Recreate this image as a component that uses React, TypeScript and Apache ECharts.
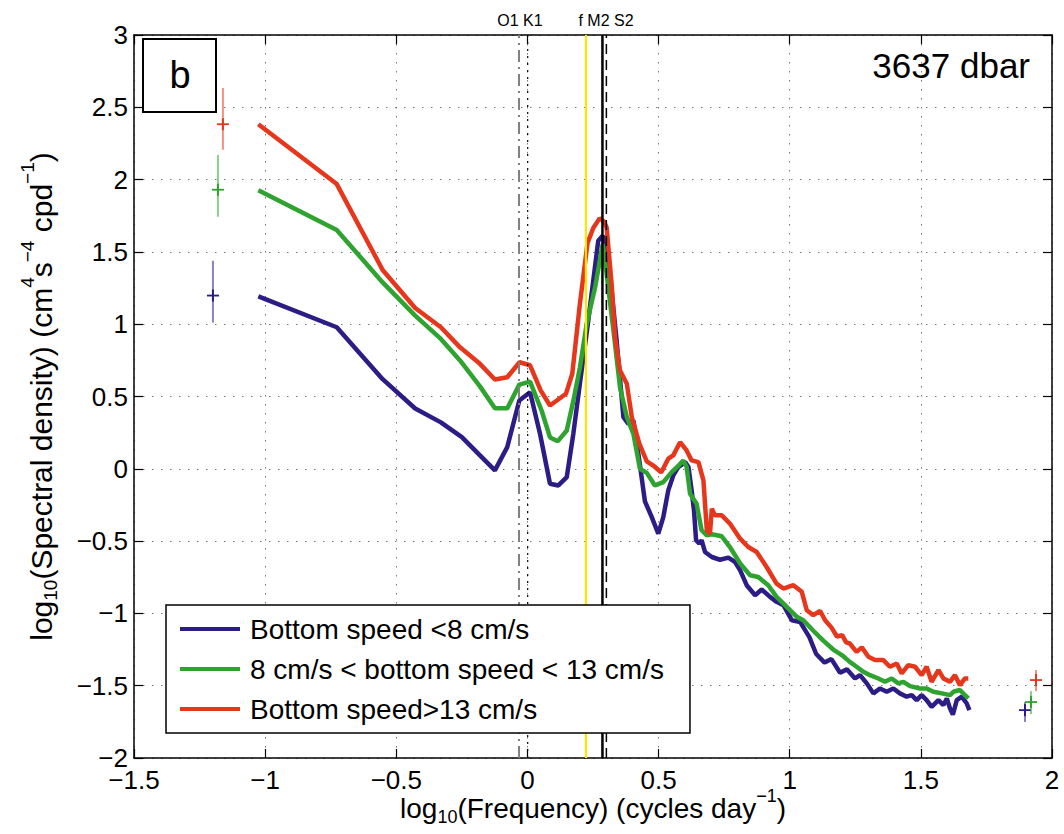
import React, { useEffect, useRef } from 'react';
import * as echarts from 'echarts';

const FONT = '"Liberation Sans", Arial, Helvetica, sans-serif';

// log10(frequency [cpd]), log10(spectral density)
const blueSpectrum: number[][] = [
  [-1.026, 1.193], [-0.727, 0.979], [-0.552, 0.62], [-0.428, 0.417], [-0.33, 0.321], [-0.25, 0.219],
  [-0.181, 0.093], [-0.124, -0.011], [-0.077, 0.15], [-0.031, 0.472], [0.01, 0.53], [0.048, 0.242],
  [0.086, -0.103], [0.118, -0.115], [0.15, -0.057], [0.175, 0.242], [0.2, 0.588], [0.232, 1.025],
  [0.27, 1.577], [0.287, 1.612], [0.302, 1.531], [0.321, 1.232], [0.34, 0.887], [0.366, 0.357],
  [0.385, 0.311], [0.404, 0.334], [0.423, 0.104], [0.448, -0.225], [0.474, -0.334], [0.499, -0.449],
  [0.518, -0.334], [0.537, -0.149], [0.556, -0.046], [0.575, 0.012], [0.601, 0.046], [0.614, 0.012],
  [0.626, -0.149], [0.635, -0.287], [0.643, -0.494], [0.655, -0.517], [0.664, -0.494], [0.677, -0.575],
  [0.703, -0.61], [0.734, -0.629], [0.766, -0.614], [0.791, -0.644], [0.811, -0.702], [0.836, -0.805],
  [0.868, -0.874], [0.893, -0.835], [0.925, -0.886], [0.95, -0.92], [0.976, -0.943], [1.008, -1.047],
  [1.04, -1.06], [1.075, -1.164], [1.101, -1.281], [1.133, -1.34], [1.159, -1.316], [1.192, -1.41],
  [1.218, -1.387], [1.249, -1.45], [1.268, -1.427], [1.294, -1.484], [1.319, -1.553], [1.344, -1.519],
  [1.37, -1.542], [1.395, -1.519], [1.42, -1.553], [1.446, -1.576], [1.465, -1.565], [1.484, -1.6],
  [1.503, -1.565], [1.522, -1.6], [1.541, -1.646], [1.567, -1.6], [1.586, -1.634], [1.599, -1.588],
  [1.611, -1.657], [1.622, -1.7], [1.637, -1.6], [1.656, -1.576], [1.675, -1.623], [1.685, -1.669],
];

const greenSpectrum: number[][] = [
  [-1.026, 1.927], [-0.727, 1.651], [-0.552, 1.289], [-0.428, 1.059], [-0.33, 0.898], [-0.257, 0.749],
  [-0.181, 0.57], [-0.124, 0.418], [-0.077, 0.418], [-0.031, 0.582], [0.01, 0.603], [0.054, 0.403],
  [0.086, 0.217], [0.116, 0.191], [0.15, 0.265], [0.175, 0.47], [0.2, 0.7], [0.226, 1.002],
  [0.258, 1.255], [0.287, 1.554], [0.302, 1.347], [0.328, 0.956], [0.353, 0.564], [0.379, 0.357],
  [0.404, 0.242], [0.429, 0.0], [0.455, -0.028], [0.486, -0.115], [0.518, -0.092], [0.55, -0.023],
  [0.575, 0.02], [0.594, 0.058], [0.607, 0.012], [0.62, -0.172], [0.645, -0.241], [0.664, -0.425],
  [0.684, -0.46], [0.703, -0.453], [0.741, -0.467], [0.772, -0.541], [0.811, -0.655], [0.849, -0.736],
  [0.88, -0.748], [0.918, -0.805], [0.95, -0.886], [0.982, -0.943], [1.027, -1.024], [1.052, -1.047],
  [1.09, -1.12], [1.127, -1.187], [1.166, -1.25], [1.2, -1.29], [1.229, -1.335], [1.255, -1.369],
  [1.281, -1.404], [1.306, -1.427], [1.338, -1.45], [1.363, -1.473], [1.389, -1.45], [1.414, -1.484],
  [1.433, -1.473], [1.459, -1.503], [1.497, -1.519], [1.522, -1.519], [1.548, -1.542], [1.58, -1.553],
  [1.611, -1.565], [1.624, -1.542], [1.649, -1.53], [1.668, -1.565], [1.681, -1.588],
];

const redSpectrum: number[][] = [
  [-1.026, 2.383], [-0.727, 1.969], [-0.552, 1.375], [-0.428, 1.112], [-0.33, 0.979], [-0.257, 0.84],
  [-0.181, 0.726], [-0.124, 0.618], [-0.077, 0.633], [-0.03, 0.737], [0.01, 0.716], [0.051, 0.541],
  [0.086, 0.438], [0.112, 0.472], [0.147, 0.519], [0.171, 0.657], [0.2, 1.14], [0.229, 1.56],
  [0.251, 1.665], [0.275, 1.732], [0.291, 1.712], [0.302, 1.669], [0.321, 1.278], [0.334, 0.91],
  [0.353, 0.68], [0.379, 0.588], [0.398, 0.357], [0.427, 0.173], [0.455, 0.052], [0.483, 0.018],
  [0.51, -0.025], [0.537, 0.07], [0.556, 0.093], [0.582, 0.184], [0.607, 0.127], [0.626, 0.058],
  [0.652, 0.046], [0.671, -0.08], [0.684, -0.425], [0.696, -0.448], [0.703, -0.276], [0.715, -0.322],
  [0.741, -0.322], [0.772, -0.379], [0.811, -0.483], [0.842, -0.541], [0.874, -0.575], [0.912, -0.679],
  [0.95, -0.794], [0.976, -0.828], [1.014, -0.805], [1.046, -0.851], [1.065, -0.978], [1.09, -1.012],
  [1.116, -0.983], [1.135, -1.047], [1.16, -1.1], [1.18, -1.16], [1.2, -1.15], [1.215, -1.2],
  [1.229, -1.208], [1.255, -1.266], [1.275, -1.235], [1.3, -1.3], [1.325, -1.323], [1.357, -1.323],
  [1.382, -1.369], [1.408, -1.346], [1.427, -1.415], [1.452, -1.358], [1.478, -1.369], [1.503, -1.427],
  [1.522, -1.369], [1.541, -1.473], [1.567, -1.392], [1.586, -1.45], [1.611, -1.473], [1.63, -1.427],
  [1.649, -1.496], [1.668, -1.45], [1.681, -1.45],
];

// error bars: [x, low, high, centre]
const blueErrors: number[][] = [[-1.199, 1.011, 1.439, 1.198], [1.897, -1.751, -1.613, -1.669]];
const greenErrors: number[][] = [[-1.18, 1.743, 2.171, 1.93], [1.92, -1.696, -1.537, -1.613]];
const redErrors: number[][] = [[-1.161, 2.206, 2.634, 2.383], [1.939, -1.537, -1.392, -1.461]];

const seriesNames = ['Bottom speed <8 cm/s', '8 cm/s < bottom speed < 13 cm/s', 'Bottom speed>13 cm/s'];
const seriesColors = ['#2c1c86', '#2ea32f', '#e6371c'];

// tidal / inertial frequencies, log10(cpd)
const tidalNames = ['O1', 'K1', 'f', 'M2', 'S2'];
const tidalLogFreq = [-0.032, 0.001, 0.223, 0.286, 0.301];
const tidalStyles: any[] = [
  { color: '#808080', width: 2, type: [12, 5, 2, 5] },
  { color: '#000', width: 1.2, type: [2, 5] },
  { color: '#ffe600', width: 2.2, type: 'solid' },
  { color: '#000', width: 2.5, type: 'solid' },
  { color: '#000', width: 1.5, type: [10, 6] },
];

const xTicks = { min: -1.5, max: 2, interval: 0.5 };
const yTicks = { min: -2, max: 3, interval: 0.5 };

export default function App() {
  const ref = useRef<HTMLDivElement>(null);

  useEffect(() => {
    if (!ref.current) return;
    const chart = echarts.init(ref.current, null, { renderer: 'svg' });
    const fmt = (v: number) => (v < 0 ? '\u2212' + String(-v) : String(v));

    const makeRich = (base: number, small: number, raise: number) => ({
      a: { fontSize: base, fontFamily: FONT, color: '#000', lineHeight: base, verticalAlign: 'top', padding: [raise, 0, 0, 0] },
      sub: { fontSize: small, fontFamily: FONT, color: '#000', lineHeight: small, verticalAlign: 'top', padding: [raise + Math.round(base * 0.5), 0, 0, 0] },
      sup: { fontSize: small, fontFamily: FONT, color: '#000', lineHeight: small, verticalAlign: 'top' },
    });

    const axisLine = { show: true, onZero: false, lineStyle: { color: '#000', width: 1.5 } };
    const axisTick = { show: true, inside: true, length: 9, lineStyle: { color: '#000', width: 1.2 } };
    const splitLine = { show: true, lineStyle: { type: [1.5, 7.5], color: '#777', width: 1 } };
    const labelStyle = { fontSize: 26, fontFamily: FONT, color: '#000', lineHeight: 24, showMinLabel: true, showMaxLabel: true };

    const errorRender = (color: string) => (params: any, api: any) => {
      const x = api.value(0);
      const lo = api.coord([x, api.value(1)]);
      const hi = api.coord([x, api.value(2)]);
      const c = api.coord([x, api.value(3)]);
      return {
        type: 'group',
        children: [
          { type: 'line', shape: { x1: lo[0], y1: lo[1], x2: hi[0], y2: hi[1] }, style: { stroke: color, lineWidth: 2, opacity: 0.55 } },
          { type: 'line', shape: { x1: c[0] - 6, y1: c[1], x2: c[0] + 6, y2: c[1] }, style: { stroke: color, lineWidth: 1.8 } },
          { type: 'line', shape: { x1: c[0], y1: c[1] - 6, x2: c[0], y2: c[1] + 6 }, style: { stroke: color, lineWidth: 2 } },
        ],
      };
    };

    const spectra = [blueSpectrum, greenSpectrum, redSpectrum];
    const errors = [blueErrors, greenErrors, redErrors];

    const lineSeries = spectra.map((d, i) => ({
      name: seriesNames[i],
      type: 'line',
      data: d,
      symbol: 'none',
      smooth: false,
      lineStyle: { color: seriesColors[i], width: 4.5 },
      itemStyle: { color: seriesColors[i] },
      z: 2,
    }));

    const errorSeries = errors.map((d, i) => ({
      name: 'err' + i,
      type: 'custom',
      data: d,
      renderItem: errorRender(seriesColors[i]),
      encode: { x: 0, y: [1, 2, 3] },
      clip: false,
      silent: true,
      z: 3,
    }));

    const tidalSeries = tidalLogFreq.map((x, i) => ({
      name: tidalNames[i],
      type: 'line',
      data: [[x, yTicks.min], [x, yTicks.max]],
      symbol: 'none',
      silent: true,
      lineStyle: tidalStyles[i],
      z: 4,
    }));

    chart.setOption({
      animation: false,
      backgroundColor: '#fff',
      grid: { left: 134, right: 12, top: 35, bottom: 76, containLabel: false, outerBoundsMode: 'none' },
      xAxis: [
        {
          type: 'value', ...xTicks, position: 'bottom',
          axisLine, axisTick, splitLine,
          axisLabel: { ...labelStyle, formatter: fmt, margin: 10 },
          name: '{a|log}{sub|10}{a|(Frequency) (cycles day}{sup|\u22121}{a|)}',
          nameLocation: 'middle', nameGap: 29, nameMoveOverlap: false,
          nameTextStyle: { rich: makeRich(28, 18, 7) },
        },
        {
          type: 'value', ...xTicks, position: 'top',
          axisLine, axisTick, splitLine: { show: false }, axisLabel: { show: false },
        },
      ],
      yAxis: [
        {
          type: 'value', ...yTicks, position: 'left',
          axisLine, axisTick, splitLine,
          axisLabel: { ...labelStyle, formatter: fmt, margin: 6 },
          name: '{a|log}{sub|10}{a|(Spectral density) (cm}{sup|4}{a|s}{sup|\u22124}{a| cpd}{sup|\u22121}{a|)}',
          nameLocation: 'middle', nameGap: 86, nameRotate: 90, nameMoveOverlap: false,
          nameTextStyle: { rich: makeRich(30, 19, 8) },
        },
        {
          type: 'value', ...yTicks, position: 'right',
          axisLine, axisTick, splitLine: { show: false }, axisLabel: { show: false },
        },
      ],
      legend: {
        data: seriesNames.map((n) => ({ name: n, icon: 'rect' })),
        orient: 'vertical',
        left: 166, top: 605,
        padding: [10, 26, 10, 14],
        itemWidth: 60, itemHeight: 4, itemGap: 12,
        borderColor: '#000', borderWidth: 1.5, borderRadius: 0,
        backgroundColor: '#fff',
        selectedMode: false,
        textStyle: { fontSize: 28, fontFamily: FONT, color: '#000', lineHeight: 28, padding: [0, 0, 0, 5] },
        z: 10,
      },
      graphic: [
        {
          type: 'rect', z: 100,
          shape: { x: 143, y: 39, width: 73, height: 73 },
          style: { fill: '#fff', stroke: '#000', lineWidth: 2 },
        },
        {
          type: 'text', z: 101, x: 180, y: 75,
          style: { text: 'b', fontSize: 38, fontFamily: FONT, fill: '#000', align: 'center', verticalAlign: 'middle' },
        },
        {
          type: 'text', z: 101, x: 1030, y: 65,
          style: { text: '3637 dbar', fontSize: 35, fontFamily: FONT, fill: '#000', align: 'right', verticalAlign: 'middle' },
        },
        {
          type: 'text', z: 101, x: 520, y: 20,
          style: { text: 'O1 K1', fontSize: 16, fontFamily: FONT, fill: '#000', align: 'center', verticalAlign: 'middle' },
        },
        {
          type: 'text', z: 101, x: 606, y: 20,
          style: { text: 'f M2 S2', fontSize: 16, fontFamily: FONT, fill: '#000', align: 'center', verticalAlign: 'middle' },
        },
      ],
      series: [...lineSeries, ...errorSeries, ...tidalSeries],
    });

    return () => chart.dispose();
  }, []);

  return <div ref={ref} style={{ position: 'fixed', left: 0, top: 0, width: 1064, height: 834 }} />;
}
